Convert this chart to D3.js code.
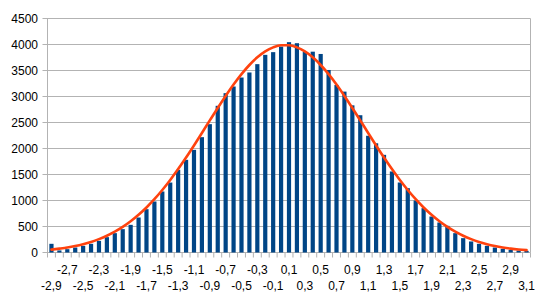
<!DOCTYPE html>
<html>
<head>
<meta charset="utf-8">
<script src="https://cdn.jsdelivr.net/npm/d3@7"></script>
<style>
  html, body { margin: 0; padding: 0; background: #fff; }
  svg { display: block; }
  text { font-family: "Liberation Sans", Arial, sans-serif; font-size: 12px; fill: #000; }
</style>
</head>
<body>
<svg id="chart" width="549" height="305"></svg>
<script>
// ---- data ----
const categories = [-2.9,-2.8,-2.7,-2.6,-2.5,-2.4,-2.3,-2.2,-2.1,-2.0,
  -1.9,-1.8,-1.7,-1.6,-1.5,-1.4,-1.3,-1.2,-1.1,-1.0,
  -0.9,-0.8,-0.7,-0.6,-0.5,-0.4,-0.3,-0.2,-0.1,0.0,
  0.1,0.2,0.3,0.4,0.5,0.6,0.7,0.8,0.9,1.0,
  1.1,1.2,1.3,1.4,1.5,1.6,1.7,1.8,1.9,2.0,
  2.1,2.2,2.3,2.4,2.5,2.6,2.7,2.8,2.9,3.0,3.1];

const counts = [167,40,64,96,128,167,224,295,372,449,
  532,673,833,981,1173,1345,1590,1782,1974,2218,
  2468,2821,3064,3192,3365,3462,3622,3801,3853,3960,
  4045,4025,3855,3862,3818,3510,3222,3094,2830,2640,
  2245,2100,1878,1558,1346,1237,1000,853,692,577,
  513,372,276,212,167,128,96,71,51,38,32];

const curve = [55,75,97,125,160,203,257,322,400,492,
  600,725,866,1025,1202,1395,1604,1826,2059,2299,
  2541,2780,3011,3230,3430,3606,3753,3867,3945,3985,
  3985,3945,3867,3753,3606,3430,3230,3011,2780,2541,
  2299,2059,1826,1604,1395,1202,1025,866,725,600,
  492,400,322,257,203,160,125,97,75,58,45];

const yTicks = [0,500,1000,1500,2000,2500,3000,3500,4000,4500];

// ---- layout ----
const svg = d3.select("#chart");
const pL = 47.5, pR = 530.5, pT = 18.5, pB = 252.5;
const gridColor = "#b3b3b3";

const x = d3.scaleBand()
  .domain(categories.map(String))
  .range([pL, pR])
  .paddingInner(0.47)
  .paddingOuter(0.235);

const y = d3.scaleLinear().domain([0, 4500]).range([pB, pT]);

const fmt = v => v.toFixed(1).replace(".", ",");

// gridlines
svg.append("g").selectAll("line").data(yTicks).join("line")
  .attr("x1", pL - 5).attr("x2", pR)
  .attr("y1", d => y(d)).attr("y2", d => y(d))
  .attr("stroke", gridColor).attr("stroke-width", 1);

// left axis & right border
svg.append("line").attr("x1", pL).attr("x2", pL).attr("y1", pT).attr("y2", pB)
  .attr("stroke", gridColor);
svg.append("line").attr("x1", pR).attr("x2", pR).attr("y1", pT).attr("y2", pB)
  .attr("stroke", gridColor);

// y labels
svg.append("g").selectAll("text").data(yTicks).join("text")
  .attr("x", 38).attr("y", d => y(d))
  .attr("text-anchor", "end").attr("dominant-baseline", "central")
  .text(d => d);

// x tick marks at category boundaries
const step = x.step();
const bounds = d3.range(categories.length + 1).map(k => pL + k * step);
svg.append("g").selectAll("line").data(bounds).join("line")
  .attr("x1", d => d).attr("x2", d => d)
  .attr("y1", pB).attr("y2", pB + 5)
  .attr("stroke", gridColor);

// bars
const cx = c => x(String(c)) + x.bandwidth() / 2;
svg.append("g").selectAll("rect").data(categories).join("rect")
  .attr("x", d => x(String(d)))
  .attr("width", x.bandwidth())
  .attr("y", (d, i) => y(counts[i]))
  .attr("height", (d, i) => pB - y(counts[i]))
  .attr("fill", "#004586");

// x labels (staggered)
svg.append("g").selectAll("text").data(categories.filter((d, i) => i % 2 === 0)).join("text")
  .attr("x", d => cx(d))
  .attr("y", d => (categories.indexOf(d) % 4 === 0) ? 290 : 274)
  .attr("text-anchor", "middle")
  .text(d => fmt(d));

// fitted curve
const line = d3.line()
  .x((d, i) => cx(categories[i]))
  .y(d => y(d))
  .curve(d3.curveMonotoneX);
svg.append("path").datum(curve)
  .attr("d", line)
  .attr("fill", "none")
  .attr("stroke", "#ff420e")
  .attr("stroke-width", 2.6)
  .attr("stroke-linejoin", "round")
  .attr("stroke-linecap", "round");
</script>
</body>
</html>
